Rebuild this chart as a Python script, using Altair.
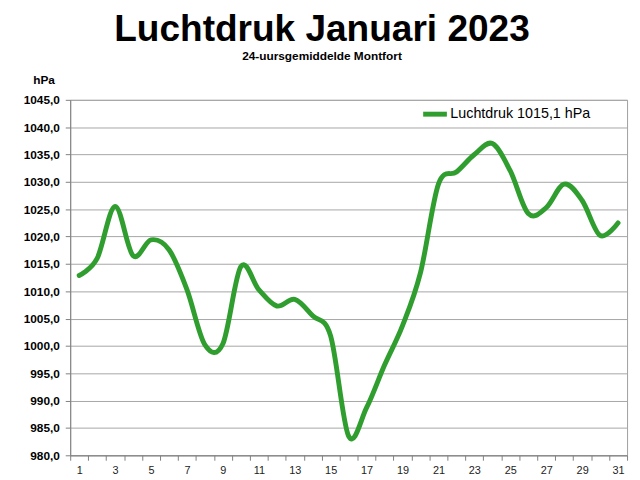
import altair as alt
import pandas as pd

days = list(range(1, 32))
pressure = [1012.9, 1016.0, 1025.5, 1016.5, 1019.4, 1017.6, 1010.3, 1000.2, 1000.4, 1014.5,
            1010.3, 1007.3, 1008.5, 1005.5, 1001.8, 983.5, 988.7, 996.5, 1003.7, 1013.4,
            1029.6, 1031.8, 1035.0, 1037.0, 1032.0, 1024.2, 1025.3, 1029.6, 1026.6, 1020.2,
            1022.5]
series_name = "Luchtdruk 1015,1 hPa"
y_ticks = [980, 985, 990, 995, 1000, 1005, 1010, 1015, 1020, 1025, 1030, 1035, 1040, 1045]

df = pd.DataFrame({"dag": days, "hPa": pressure, "serie": series_name})

FONT = "Liberation Sans"
GREEN = "#2f9e2f"

chart = alt.Chart(df).mark_line(
    interpolate="cardinal", strokeWidth=5, strokeCap="round", strokeJoin="round"
).encode(
    x=alt.X("dag:O",
            scale=alt.Scale(type="band", paddingInner=0, paddingOuter=0),
            axis=alt.Axis(title=None, labelAngle=0, tickBand="extent", grid=False,
                          labelExpr="datum.value % 2 == 1 ? datum.value : ''",
                          labelFont=FONT, labelFontSize=11, labelColor="#222222",
                          tickColor="#808080", tickSize=5, labelPadding=4,
                          domainColor="#808080")),
    y=alt.Y("hPa:Q",
            scale=alt.Scale(domain=[980, 1045], nice=False, zero=False),
            axis=alt.Axis(values=y_ticks, title="hPa", titleAngle=0, titleAlign="center",
                          titleBaseline="middle", titleX=-27, titleY=-21,
                          titleFont=FONT, titleFontSize=12, titleFontWeight="bold",
                          labelExpr="replace(format(datum.value, '.1f'), '.', ',')",
                          labelFont=FONT, labelFontSize=12, labelFontWeight="bold",
                          labelColor="black", labelPadding=6, tickSize=5,
                          tickColor="#808080", domainColor="#808080",
                          gridColor="#a6a6a6", gridWidth=1)),
    color=alt.Color("serie:N", scale=alt.Scale(range=[GREEN]),
                    legend=alt.Legend(title=None, orient="none", legendX=355, legendY=0,
                                      symbolType="stroke", symbolStrokeWidth=5,
                                      symbolSize=576, labelFontSize=14.5, labelFont=FONT,
                                      labelColor="black", padding=0, labelOffset=1)),
).properties(
    width=564,
    height=360,
    autosize=alt.AutoSizeParams(type="none"),
    padding={"left": 63, "top": 90, "right": 5, "bottom": 22},
    title=alt.TitleParams(
        text="Luchtdruk Januari 2023",
        subtitle="24-uursgemiddelde Montfort",
        font=FONT, fontSize=37.5, fontWeight="bold", color="black",
        subtitleFont=FONT, subtitleFontSize=12, subtitleFontWeight="bold",
        subtitleColor="black", subtitlePadding=3,
        anchor="middle", dx=-27, offset=11,
    ),
).configure_view(stroke="#a0a0a0", strokeWidth=1)

chart.save("out.html", embed_options={"renderer": "svg", "actions": False})
